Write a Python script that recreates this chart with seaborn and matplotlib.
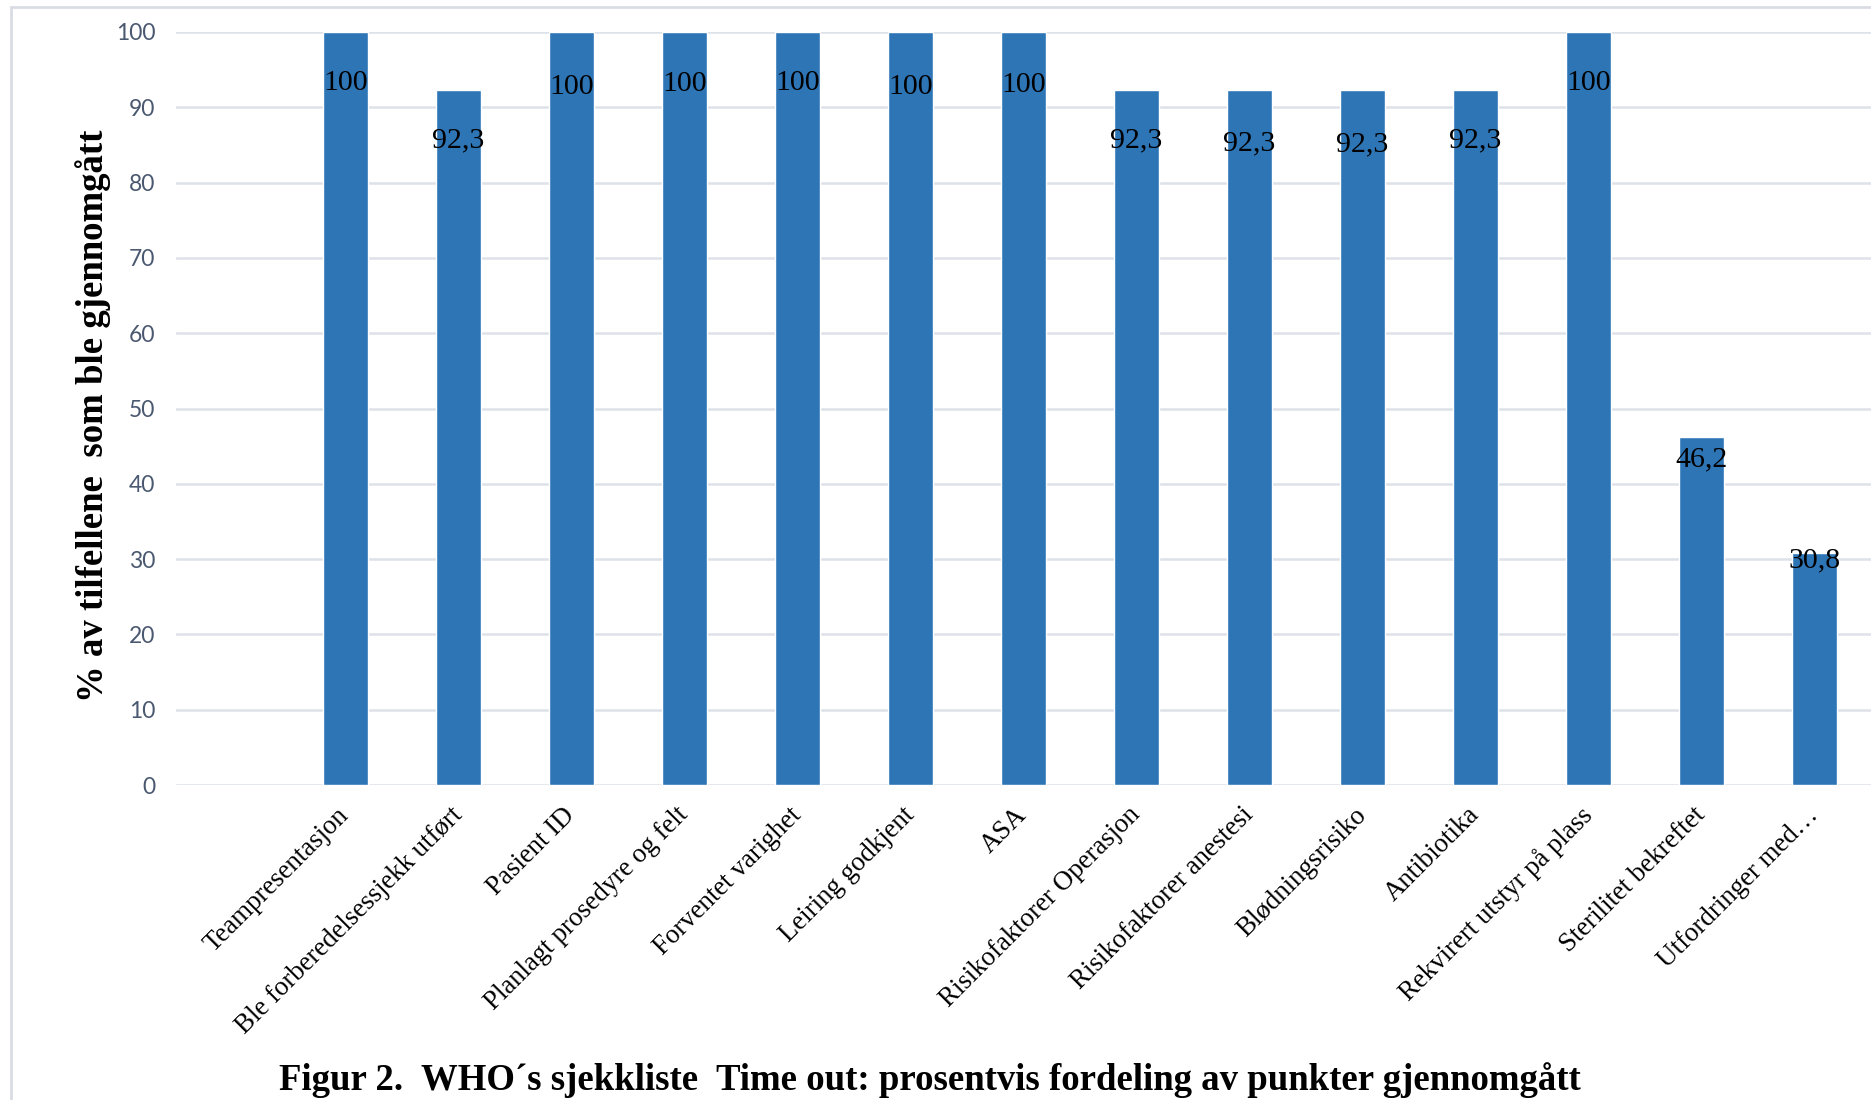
import matplotlib
matplotlib.use("Agg")
import matplotlib.pyplot as plt
from matplotlib.patches import Rectangle
import seaborn as sns
import pandas as pd

# Checklist items (WHO Time out) and share of cases where each was covered (%)
items = [
    "Teampresentasjon",
    "Ble forberedelsessjekk utført",
    "Pasient ID",
    "Planlagt prosedyre og felt",
    "Forventet varighet",
    "Leiring godkjent",
    "ASA",
    "Risikofaktorer Operasjon",
    "Risikofaktorer anestesi",
    "Blødningsrisiko",
    "Antibiotika",
    "Rekvirert utstyr på plass",
    "Sterilitet bekreftet",
    "Utfordringer med…",
]
percent = [100, 92.3, 100, 100, 100, 100, 100, 92.3, 92.3, 92.3, 92.3, 100, 46.2, 30.8]
value_labels = ["100", "92,3", "100", "100", "100", "100", "100",
                "92,3", "92,3", "92,3", "92,3", "100", "46,2", "30,8"]
y_ticks = [0, 10, 20, 30, 40, 50, 60, 70, 80, 90, 100]

y_title = "% av tilfellene  som ble gjennomgått"
fig_title = "Figur 2.  WHO´s sjekkliste  Time out: prosentvis fordeling av punkter gjennomgått"

# offset (points) of each value label's top below its bar end
label_drop = [27, 27, 30, 28, 27, 30, 29, 27, 29, 30, 27, 27, 7, -4]

sns.set_theme(style="white")
plt.rcParams["font.family"] = ["Liberation Serif", "DejaVu Serif"]

df = pd.DataFrame({"item": items, "pct": percent})

fig = plt.figure(figsize=(18.71, 11.0), dpi=100)
ax = fig.add_axes([176 / 1871, 1 - 785 / 1100, 1 - 176 / 1871, (785 - 32) / 1100])

sns.barplot(data=df, x="item", y="pct", order=items, color="#2E75B6",
            saturation=1, width=0.4, ax=ax, zorder=3)

ax.set_xlim(-1.5, len(items) - 0.5)
ax.set_ylim(0, 100)
ax.set_yticks(y_ticks)
ax.set_yticklabels([str(t) for t in y_ticks], family="Lato", fontsize=16.5,
                   color="#4A5870")
ax.tick_params(axis="y", length=0, pad=15)
ax.tick_params(axis="x", length=0, pad=19)
ax.set_xticks(range(len(items)))
ax.set_xticklabels(items, rotation=45, ha="right", va="center",
                   rotation_mode="anchor", fontsize=19.4, color="black")

ax.grid(axis="y", color="#DDE1E8", linewidth=1.8, zorder=0)
ax.grid(axis="x", visible=False)
for s in ax.spines.values():
    s.set_visible(False)

ax.set_xlabel("")
ax.set_ylabel(y_title, fontsize=26.5, fontweight="bold", color="black")
ax.yaxis.set_label_coords(-0.0385, 0.49)

for i, (v, lab) in enumerate(zip(percent, value_labels)):
    ax.annotate(lab, xy=(i, v), xytext=(0, -label_drop[i]),
                textcoords="offset points", ha="center", va="top",
                fontsize=21.5, color="black", zorder=4)

fig.text(930 / 1871, 1 - 1080 / 1100, fig_title, ha="center", va="center",
         fontsize=26.5, fontweight="bold", color="black")

# light frame around the chart area
fig.patches.append(Rectangle((11 / 1871, -0.1), 1.2, 1.1 - 7 / 1100,
                             transform=fig.transFigure, fill=False,
                             edgecolor="#D9DDE3", linewidth=2, zorder=0))

fig.savefig("out.png", dpi=100)
